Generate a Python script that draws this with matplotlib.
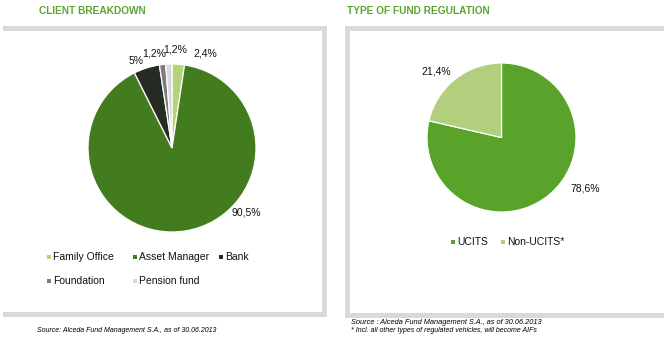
import matplotlib
matplotlib.use("Agg")
import matplotlib.pyplot as plt
import matplotlib.patches as mpatches

plt.rcParams["font.family"] = ["Liberation Sans", "DejaVu Sans"]

W, H = 667, 340            # canvas size in px (dpi 100)

# ---- data ----
client_labels = ["Family Office", "Asset Manager", "Bank", "Foundation", "Pension fund"]
client_values = [2.4, 90.5, 5.0, 1.2, 1.2]
client_colors = ["#b3d47b", "#437b1f", "#262b24", "#7b7b7b", "#d9d9d9"]

reg_labels = ["UCITS", "Non-UCITS*"]
reg_values = [78.6, 21.4]
reg_colors = ["#5aa32b", "#b1cf7c"]

# label spots in units of pie radius (centre = 0,0)
client_label_xy = [(0.40, 1.13), (0.88, -0.77), (-0.43, 1.03), (-0.21, 1.12), (0.04, 1.17)]
reg_label_xy = [(1.13, -0.68), (-0.88, 0.88)]

GREEN = "#5ba632"
FRAME = "#d9d9d9"


def fx(x): return x / W
def fy(y): return 1 - y / H


def fmt(v):
    s = ("%g" % v).replace(".", ",")
    return s + "%"


fig = plt.figure(figsize=(W / 100, H / 100), dpi=100)


def bar(x0, y0, x1, y1):
    fig.add_artist(mpatches.Rectangle((fx(x0), fy(y1)), fx(x1 - x0), (y1 - y0) / H,
                                      transform=fig.transFigure, facecolor=FRAME,
                                      edgecolor="none"))


# frames: left panel open on the left, right panel open on the right
bar(3, 26, 327, 31); bar(322, 26, 327, 317); bar(3, 312, 327, 317)
bar(345, 26, 664, 31); bar(345, 26, 350, 318); bar(345, 313, 664, 318)

fig.text(fx(39), fy(11), "CLIENT BREAKDOWN", color=GREEN, fontsize=7.3, weight="bold", va="center")
fig.text(fx(347), fy(11), "TYPE OF FUND REGULATION", color=GREEN, fontsize=7.3, weight="bold", va="center")


def pie(cx, cy, r, values, colors, label_xy):
    ax = fig.add_axes([fx(cx - r), fy(cy + r), 2 * r / W, 2 * r / H])
    ax.pie(values, colors=colors, startangle=90, counterclock=False, radius=1,
           wedgeprops=dict(edgecolor="white", linewidth=0.9))
    for v, (lx, ly) in zip(values, label_xy):
        ax.text(lx, ly, fmt(v), fontsize=7.5, ha="center", va="center", color="#111111",
                clip_on=False)
    ax.set_xlim(-1, 1); ax.set_ylim(-1, 1)
    ax.set_aspect("equal")
    ax.axis("off")
    return ax


pie(172, 148, 84, client_values, client_colors, client_label_xy)
pie(501.5, 137.5, 74.5, reg_values, reg_colors, reg_label_xy)


def legend_item(x, y, text, color):
    fig.add_artist(mpatches.Rectangle((fx(x - 2), fy(y + 2)), 4 / W, 4 / H,
                                      transform=fig.transFigure, facecolor=color,
                                      edgecolor="none"))
    fig.text(fx(x + 4), fy(y), text, fontsize=7.5, va="center", color="#111111")


client_leg_xy = [(49, 257), (135, 257), (221, 257), (49, 281), (135, 281)]
for (x, y), t, c in zip(client_leg_xy, client_labels, client_colors):
    legend_item(x, y, t, c)

reg_leg_xy = [(453, 242), (503, 242)]
for (x, y), t, c in zip(reg_leg_xy, reg_labels, reg_colors):
    legend_item(x, y, t, c)

fig.text(fx(37), fy(330), "Source: Alceda Fund Management S.A., as of 30.06.2013",
         fontsize=5.0, style="italic", va="center")
fig.text(fx(351), fy(323), "Source : Alceda Fund Management S.A., as of 30.06.2013",
         fontsize=5.3, style="italic", va="center")
fig.text(fx(351), fy(331), "* Incl. all other types of regulated vehicles, will become AIFs",
         fontsize=5.0, style="italic", va="center")

fig.savefig("out.png", dpi=100)
